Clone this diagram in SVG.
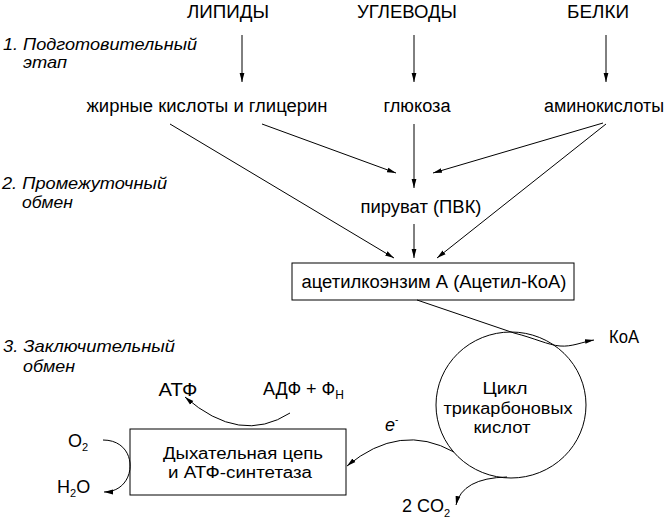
<svg xmlns="http://www.w3.org/2000/svg" width="668" height="522" viewBox="0 0 668 522">
<style>
text{font-family:"Liberation Sans",Arial,sans-serif;font-size:18px;fill:#000}
.c{text-anchor:middle}
.i{font-style:italic;font-size:17px}
.s{font-size:16px}
.ln{fill:none;stroke:#000;stroke-width:1}
.bx{fill:#fff;stroke:#000;stroke-width:1}
</style>
<defs>
<marker id="ah" markerWidth="10" markerHeight="6" refX="9" refY="3" orient="auto" markerUnits="userSpaceOnUse">
<path d="M0,0.6 L9,3 L0,5.4 Z" fill="#000"/>
</marker>
</defs>
<rect width="668" height="522" fill="#fff"/>
<g id="stage-labels">
<text class="i" x="3" y="50" textLength="194" lengthAdjust="spacingAndGlyphs">1. Подготовительный</text>
<text class="i" x="23" y="68" textLength="44" lengthAdjust="spacingAndGlyphs">этап</text>
<text class="i" x="2" y="189" textLength="165" lengthAdjust="spacingAndGlyphs">2. Промежуточный</text>
<text class="i" x="22" y="208" textLength="51" lengthAdjust="spacingAndGlyphs">обмен</text>
<text class="i" x="3" y="352" textLength="172" lengthAdjust="spacingAndGlyphs">3. Заключительный</text>
<text class="i" x="23" y="372" textLength="52" lengthAdjust="spacingAndGlyphs">обмен</text>
</g>
<g id="lipids"><text class="c" x="228" y="18" textLength="82" lengthAdjust="spacingAndGlyphs">ЛИПИДЫ</text></g>
<g id="carbs"><text class="c" x="407" y="18" textLength="100" lengthAdjust="spacingAndGlyphs">УГЛЕВОДЫ</text></g>
<g id="proteins"><text class="c" x="598" y="18" textLength="62" lengthAdjust="spacingAndGlyphs">БЕЛКИ</text></g>
<g id="fatty"><text class="c" x="207" y="112" textLength="241" lengthAdjust="spacingAndGlyphs">жирные кислоты и глицерин</text></g>
<g id="glucose"><text class="c" x="417" y="112" textLength="67" lengthAdjust="spacingAndGlyphs">глюкоза</text></g>
<g id="amino"><text class="c" x="604" y="112" textLength="120" lengthAdjust="spacingAndGlyphs">аминокислоты</text></g>
<g id="pyruvate"><text class="c" x="421" y="213" textLength="121" lengthAdjust="spacingAndGlyphs">пируват (ПВК)</text></g>
<g id="acetyl">
<rect class="bx" x="292" y="263" width="282" height="37"/>
<text class="c" x="434" y="288" textLength="265" lengthAdjust="spacingAndGlyphs">ацетилкоэнзим А (Ацетил-КоА)</text>
</g>
<g id="koa"><text x="609" y="343" textLength="30" lengthAdjust="spacingAndGlyphs">КоА</text></g>
<g id="tca">
<ellipse class="bx" cx="511" cy="405" rx="75" ry="73"/>
<text class="c s" x="505" y="394" textLength="45" lengthAdjust="spacingAndGlyphs">Цикл</text>
<text class="c s" x="508" y="414" textLength="129" lengthAdjust="spacingAndGlyphs">трикарбоновых</text>
<text class="c s" x="502" y="433" textLength="57" lengthAdjust="spacingAndGlyphs">кислот</text>
</g>
<g id="resp">
<rect class="bx" x="130" y="429" width="216" height="66"/>
<text class="c s" x="243" y="459" textLength="160" lengthAdjust="spacingAndGlyphs">Дыхательная цепь</text>
<text class="c s" x="240" y="478" textLength="144" lengthAdjust="spacingAndGlyphs">и АТФ-синтетаза</text>
</g>
<g id="atp"><text class="c" x="178" y="396" textLength="39" lengthAdjust="spacingAndGlyphs">АТФ</text></g>
<g id="adp"><text x="263" y="395">АДФ + Ф<tspan font-size="12" dy="4">Н</tspan></text></g>
<g id="o2"><text x="68" y="447" font-size="16">O<tspan font-size="11" dy="4">2</tspan></text></g>
<g id="h2o"><text x="57" y="493" font-size="16">H<tspan font-size="11" dy="4">2</tspan><tspan dy="-4">O</tspan></text></g>
<g id="co2"><text x="402" y="512" font-size="17">2 CO<tspan font-size="11" dy="5">2</tspan></text></g>
<g id="electron"><text x="385" y="431" font-style="italic" font-size="17">e<tspan font-size="10" dy="-8" font-style="normal">-</tspan></text></g>
<g id="connectors">
<line class="ln" x1="242" y1="35" x2="242" y2="82" marker-end="url(#ah)"/>
<line class="ln" x1="414" y1="35" x2="414" y2="82" marker-end="url(#ah)"/>
<line class="ln" x1="606" y1="35" x2="606" y2="82" marker-end="url(#ah)"/>
<line class="ln" x1="414" y1="124" x2="414" y2="188" marker-end="url(#ah)"/>
<line class="ln" x1="262" y1="124" x2="396" y2="173" marker-end="url(#ah)"/>
<line class="ln" x1="170" y1="124" x2="394" y2="258" marker-end="url(#ah)"/>
<line class="ln" x1="603" y1="123" x2="433" y2="173" marker-end="url(#ah)"/>
<line class="ln" x1="606" y1="124" x2="437" y2="258" marker-end="url(#ah)"/>
<line class="ln" x1="414" y1="224" x2="414" y2="258" marker-end="url(#ah)"/>
<path class="ln" d="M417,300 L514,333 C534,338 548,345 560,346 C572,347 582,342 594,340" marker-end="url(#ah)"/>
<path class="ln" d="M454,452 Q400,422 347,466" marker-end="url(#ah)"/>
<path class="ln" d="M507,477 Q462,478 456,505" marker-end="url(#ah)"/>
<path class="ln" d="M290,413 Q240,445 185,397" marker-end="url(#ah)"/>
<path class="ln" d="M103,440 C140,440 138,492 104,492" marker-end="url(#ah)"/>
</g>
</svg>
